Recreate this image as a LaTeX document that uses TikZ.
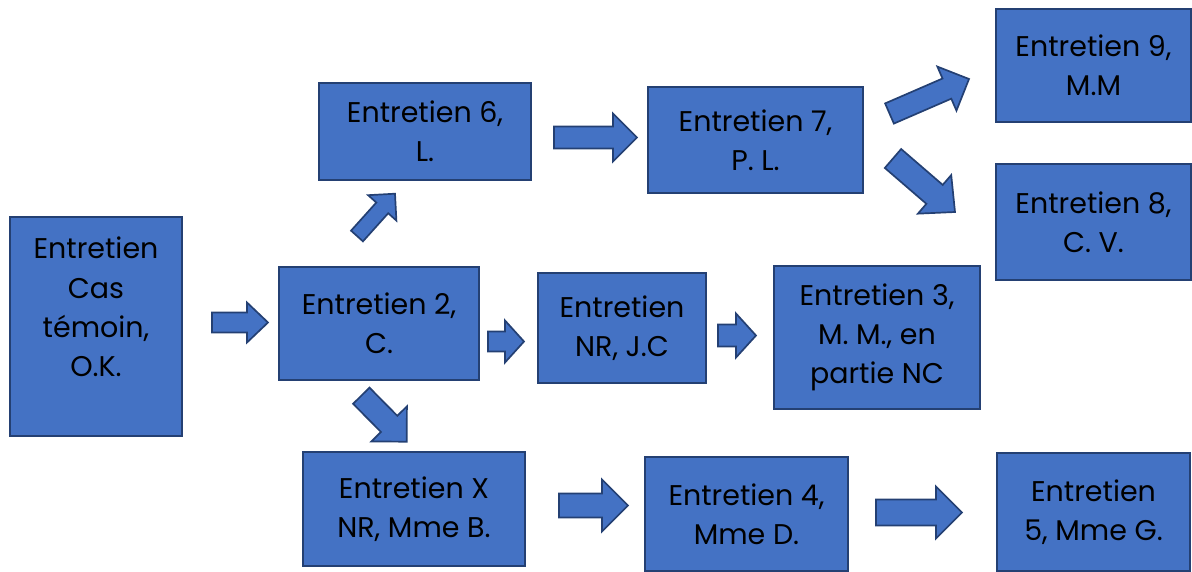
\documentclass[tikz,border=0pt]{standalone}
\usepackage{fontspec}
\setmainfont{Poppins}
\usepackage{tikz}
\usetikzlibrary{calc,positioning}
\definecolor{entr@fill}{RGB}{68,114,196}
\definecolor{entr@edge}{RGB}{36,64,115}
\tikzset{
  entr/.style={
    x=1pt, y=-1pt,
    font=\fontsize{28.5}{39.3}\selectfont,
    line width=2pt
  },
  entrbox/.style={                 % interview box
    draw=entr@edge, line width=2pt,
    fill=entr@fill,
    text=black,
    align=center,
    inner sep=0pt
  },
  bshaft/.store in=\bshaft,        % half width of the shaft
  bhead/.store in=\bhead,          % half width of the head
  bheadlen/.store in=\bheadlen,    % length of the head
  bshaft=11, bhead=22, bheadlen=20,
  blockarr/.style={                % thick outlined block arrow
    draw=entr@edge, fill=entr@fill, line width=1.7pt, line join=miter,
    to path={
      let \p1=(\tikztostart), \p2=(\tikztotarget),
          \n1={atan2(\y2-\y1,\x2-\x1)},
          \n2={veclen(\x2-\x1,\y2-\y1)-\bheadlen} in
      ($(\p1)+(\n1+90:\bshaft pt)$)
      -- ($(\p1)+(\n1:\n2)+(\n1+90:\bshaft pt)$)
      -- ($(\p1)+(\n1:\n2)+(\n1+90:\bhead pt)$)
      -- (\p2)
      -- ($(\p1)+(\n1:\n2)+(\n1-90:\bhead pt)$)
      -- ($(\p1)+(\n1:\n2)+(\n1-90:\bshaft pt)$)
      -- ($(\p1)+(\n1-90:\bshaft pt)$)
      -- cycle
    }
  }
}
\begin{document}
\begin{tikzpicture}[entr]
\useasboundingbox (0,0) rectangle (1192,571);

% left column
\node[entrbox, minimum width=172pt, minimum height=219pt] (temoin) at (96,326.5)
  {Entretien\\Cas\\témoin,\\O.K.\\\mbox{}};

% middle row
\node[entrbox, minimum width=200pt, minimum height=113pt] (e2) at (379,323.5) {Entretien 2,\\C.};
\node[entrbox, minimum width=168pt, minimum height=110pt] (nr) at (622,328) {Entretien\\NR, J.C};
\node[entrbox, minimum width=206pt, minimum height=143pt] (e3) at (877,337.5)
  {Entretien 3,\\M. M., en\\partie NC};

% upper branch
\node[entrbox, minimum width=212pt, minimum height=97pt] (e6) at (425,131.5) {Entretien 6,\\L.};
\node[entrbox, minimum width=215pt, minimum height=106pt] (e7) at (755.5,140) {Entretien 7,\\P. L.};
\node[entrbox, minimum width=195pt, minimum height=113pt] (e9) at (1093.5,65.5) {Entretien 9,\\M.M};
\node[entrbox, minimum width=195pt, minimum height=116pt] (e8) at (1093.5,222) {Entretien 8,\\C. V.};

% lower branch
\node[entrbox, minimum width=222pt, minimum height=114pt] (ex) at (414,509) {Entretien X\\NR, Mme B.};
\node[entrbox, minimum width=203pt, minimum height=114pt] (e4) at (746.5,514) {Entretien 4,\\Mme D.};
\node[entrbox, minimum width=193pt, minimum height=118pt] (e5) at (1093.5,512) {Entretien\\5, Mme G.};

% block arrows
\draw[blockarr, bshaft=10, bhead=20, bheadlen=21]
  ($(temoin.east)+(29,-4)$) to ($(e2.west)+(-10,-1)$);
\draw[blockarr, bshaft=10, bhead=21, bheadlen=19]
  ($(e2.east)+(8,18)$) to ($(nr.west)+(-13,13.5)$);
\draw[blockarr, bshaft=11, bhead=22, bheadlen=20]
  ($(nr.east)+(11,7.5)$) to ($(e3.west)+(-17,-2)$);
\draw[blockarr, bshaft=11, bhead=24, bheadlen=24]
  ($(e6.east)+(22,6)$) to ($(e7.west)+(-10,-2.5)$);
\draw[blockarr, bshaft=12, bhead=26, bheadlen=26]
  ($(ex.east)+(33,-3.5)$) to ($(e4.west)+(-16,-8.5)$);
\draw[blockarr, bshaft=13, bhead=26, bheadlen=26]
  ($(e4.east)+(27,-1.5)$) to ($(e5.west)+(-34,0.5)$);
\draw[blockarr, bshaft=8, bhead=19, bheadlen=19]
  ($(e2.north)+(-22,-30)$) to ($(e6.south)+(-30,12.7)$);
\draw[blockarr, bshaft=11.5, bhead=25, bheadlen=25]
  ($(e2.south)+(-17.7,14.7)$) to ($(ex.north)+(-7.3,-9.3)$);
\draw[blockarr, bshaft=11, bhead=24, bheadlen=24]
  ($(e7.east)+(25.5,-26.5)$) to ($(e9.west)+(-26,13.5)$);
\draw[blockarr, bshaft=12.5, bhead=25.5, bheadlen=27]
  ($(e7.east)+(29,18.5)$) to ($(e8.west)+(-40,-10)$);

\end{tikzpicture}
\end{document}
